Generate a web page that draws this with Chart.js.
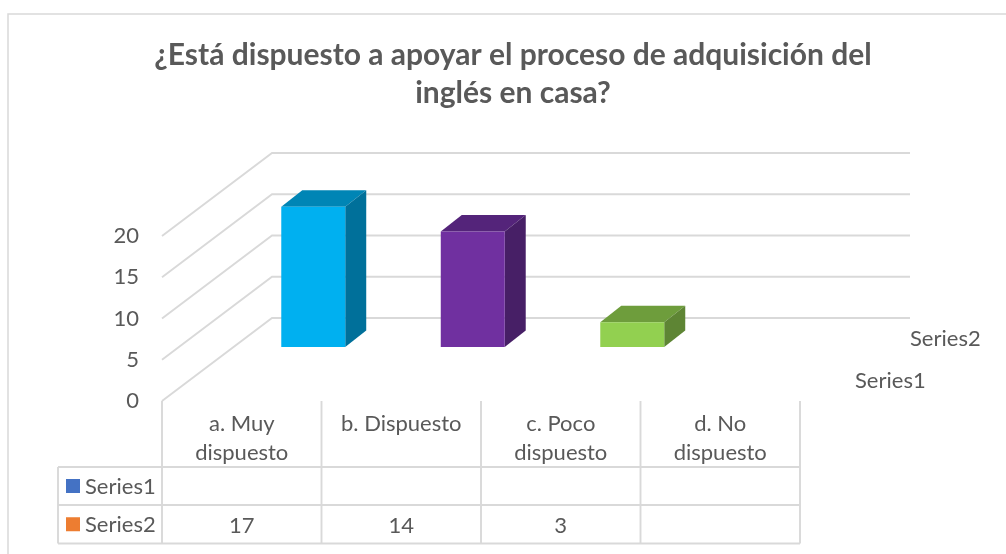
<!DOCTYPE html>
<html><head><meta charset="utf-8">
<style>html,body{margin:0;padding:0;background:#fff}canvas{display:block}</style>
<script src="https://cdn.jsdelivr.net/npm/chart.js@4"></script>
</head><body><canvas id="c" width="1006" height="554"></canvas>
<script>
const titleLines = ['¿Está dispuesto a apoyar el proceso de adquisición del', 'inglés en casa?'];
const categories = [['a. Muy','dispuesto'],['b. Dispuesto'],['c. Poco','dispuesto'],['d. No','dispuesto']];
const series1Values = [null,null,null,null];
const series2Values = [17,14,3,null];
const yTicks = [0,5,10,15,20];
const barFront = ['#00B0F0','#7030A0','#92D050','#A5A5A5'];
const barTop = ['#0085B5','#54247A','#6E9D3C','#7C7C7C'];
const barSide = ['#00709A','#471F66','#5E8534','#6A6A6A'];
const keyColors = ['#4472C4','#ED7D31'];

const GRID='#D9D9D9', TEXT='#595959', FONT='Lato, Carlito, sans-serif';
const WALL={dx:110,dy:-83}, ROW={dx:71.5,dy:-54}, DEPTH={dx:21,dy:-16.5};
const TABLE={left:58,rows:[467,505,543.5]};

function poly(ctx,pts,fill){ctx.beginPath();pts.forEach((p,i)=>i?ctx.lineTo(p[0],p[1]):ctx.moveTo(p[0],p[1]));ctx.closePath();ctx.fillStyle=fill;ctx.fill();}

const scene={
  id:'scene',
  beforeDraw(chart){
    const {ctx,scales:{x,y}}=chart;
    ctx.save();
    // outer frame: the picture is cropped on the right and at the bottom
    ctx.strokeStyle=GRID;ctx.lineWidth=1.5;
    ctx.beginPath();ctx.moveTo(8,554);ctx.lineTo(8,14);ctx.lineTo(1006,14);ctx.stroke();
    // walls
    ctx.strokeStyle=GRID;ctx.lineWidth=1.9;
    yTicks.forEach(v=>{
      const py=y.getPixelForValue(v);
      ctx.beginPath();ctx.moveTo(x.left,py);ctx.lineTo(x.left+WALL.dx,py+WALL.dy);ctx.lineTo(x.right+WALL.dx,py+WALL.dy);ctx.stroke();
    });
    // table
    const step=(x.right-x.left)/categories.length;
    ctx.strokeStyle=GRID;ctx.lineWidth=1.9;
    for(let i=0;i<=categories.length;i++){
      const px=x.left+i*step;
      ctx.beginPath();ctx.moveTo(px,y.bottom);ctx.lineTo(px,TABLE.rows[2]);ctx.stroke();
    }
    TABLE.rows.forEach(r=>{ctx.beginPath();ctx.moveTo(TABLE.left,r);ctx.lineTo(x.right,r);ctx.stroke();});
    ctx.beginPath();ctx.moveTo(TABLE.left,TABLE.rows[0]);ctx.lineTo(TABLE.left,TABLE.rows[2]);ctx.stroke();
    ctx.restore();
  },
  beforeDatasetDraw(chart,args){
    const {ctx}=chart;
    ctx.save();
    ctx.translate(ROW.dx,ROW.dy);
    const meta=args.meta;
    meta.data.forEach((el,i)=>{
      const v=meta._dataset.data[i];
      if(v===null||v===undefined)return;
      const {x,y,base,width}=el.getProps(['x','y','base','width'],true);
      const l=x-width/2,r=x+width/2,d=DEPTH;
      poly(ctx,[[l,y],[r,y],[r+d.dx,y+d.dy],[l+d.dx,y+d.dy]],barTop[i]);
      poly(ctx,[[r,y],[r+d.dx,y+d.dy],[r+d.dx,base+d.dy],[r,base]],barSide[i]);
    });
  },
  afterDatasetDraw(chart){chart.ctx.restore();},
  afterDraw(chart){
    const {ctx,scales:{x}}=chart;
    ctx.save();
    ctx.font='22px '+FONT;ctx.fillStyle=TEXT;ctx.textBaseline='middle';
    chart.data.datasets.forEach((ds,k)=>{
      const top=TABLE.rows[k],bot=TABLE.rows[k+1],mid=(top+bot)/2;
      ctx.fillStyle=keyColors[k];ctx.fillRect(66,mid-7,14,14);
      ctx.fillStyle=TEXT;ctx.textAlign='left';ctx.fillText(ds.label,85,mid+0.5);
      ctx.textAlign='center';
      ds.data.forEach((v,i)=>{if(v!==null&&v!==undefined)ctx.fillText(String(v),x.getPixelForValue(i),mid+1.5);});
    });
    ctx.textAlign='left';
    ctx.fillText(chart.data.datasets[1].label,910,339);
    ctx.fillText(chart.data.datasets[0].label,855,381);
    ctx.restore();
  }
};

new Chart(document.getElementById('c'),{
  type:'bar',
  data:{labels:categories,datasets:[
    {label:'Series1',data:series1Values,backgroundColor:barFront,borderWidth:0},
    {label:'Series2',data:series2Values,backgroundColor:barFront,borderWidth:0}
  ]},
  plugins:[scene],
  options:{
    responsive:false,animation:false,
    layout:{padding:{left:20,right:0,top:0,bottom:0}},
    datasets:{bar:{grouped:false,barPercentage:0.401,categoryPercentage:1,clip:false}},
    plugins:{
      legend:{display:false},tooltip:{enabled:false},
      title:{display:true,text:titleLines,color:TEXT,padding:{top:36,bottom:124},
        font:{family:FONT,size:30,weight:'bold',lineHeight:1.267}}
    },
    scales:{
      x:{grid:{display:false},border:{display:false},
        afterFit(s){s.height=153;},
        ticks:{maxRotation:0,minRotation:0,autoSkip:false,padding:0,color:TEXT,font:{family:FONT,size:22,lineHeight:1.32}}},
      y:{min:0,max:20,grid:{display:false},border:{display:false},
        afterFit(s){s.width=142;},
        afterBuildTicks(s){s.ticks=yTicks.map(v=>({value:v}));},
        ticks:{padding:15,color:TEXT,font:{family:FONT,size:22}}},
      pad:{type:'linear',position:'right',grid:{display:false},border:{display:false},
        afterFit(s){s.width=206;},ticks:{display:false}}
    }
  }
});
</script></body></html>
